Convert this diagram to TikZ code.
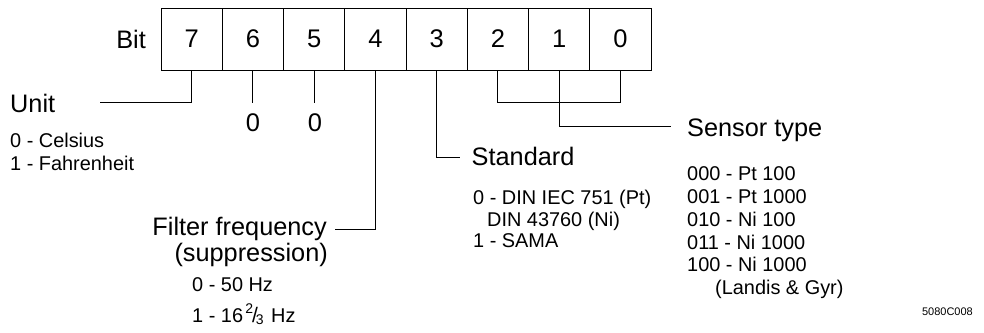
\documentclass[tikz,border=0pt]{standalone}
\usepackage{fontspec}
\setmainfont{Liberation Sans}
\begin{document}
\begin{tikzpicture}[x=1pt,y=-1pt,
  cell/.style={draw, line width=0.9pt, minimum width=61.25pt, minimum height=62pt, inner sep=0pt, font=\fontsize{25.5}{30}\selectfont},
  big/.style={anchor=base west, inner sep=0pt, font=\fontsize{25.3}{29}\selectfont},
  bige/.style={anchor=base east, inner sep=0pt, font=\fontsize{25.3}{29}\selectfont},
  small/.style={anchor=base west, inner sep=0pt, font=\fontsize{19.9}{23}\selectfont},
  conn/.style={line width=0.9pt}]
\useasboundingbox (0,0) rectangle (984,332);
% cells
\foreach \b/\i in {7/0,6/1,5/2,4/3,3/4,2/5,1/6,0/7}{
  \node[cell] (c\b) at ({161+61.25*\i+30.625},39) {\b};
}
\node[bige] (bit) at (146,48) {Bit};
% Unit
\node[big] (unit) at (10,112) {Unit};
\node[small] (u0) at (10,147) {0 - Celsius};
\node[small] (u1) at (10,170.5) {1 - Fahrenheit};
\coordinate (unitend) at (100,102);
\draw[conn] (c7.south) |- (unitend);
% bits 6 and 5
\coordinate (e6) at (c6.south |- 0,103);
\coordinate (e5) at (c5.south |- 0,103);
\draw[conn] (c6.south) -- (e6);
\draw[conn] (c5.south) -- (e5);
\node[anchor=base, inner sep=0pt, font=\fontsize{25.5}{30}\selectfont] (z6) at (253,131.5) {0};
\node[anchor=base, inner sep=0pt, font=\fontsize{25.5}{30}\selectfont] (z5) at (315,131.5) {0};
% Filter
\node[bige] (filt) at (327,235) {Filter frequency};
\node[bige] (supp) at (328,261) {(suppression)};
\node[small] (f0) at (192,291.5) {0 - 50 Hz};
\node[small] (f1) at (192,322.5) {1 - 16\kern0.12em\raisebox{0.45em}{\fontsize{14}{14}\selectfont 2}\kern-0.06em{\fontsize{21}{22}\selectfont /}\kern-0.1em\raisebox{-0.1em}{\fontsize{14}{14}\selectfont 3}\kern0.1em{} Hz};
\coordinate (filtend) at (335,229);
\draw[conn] (c4.south) |- (filtend);
% Standard
\node[big] (std) at (471.5,165) {Standard};
\node[small] (s0) at (473,204) {0 - DIN IEC 751 (Pt)};
\node[small] (s0b) at (487,226) {DIN 43760 (Ni)};
\node[small] (s1) at (473,247.5) {1 - SAMA};
\coordinate (stdend) at (460,157);
\draw[conn] (c3.south) |- (stdend);
% Sensor type
\coordinate (j2) at (c2.south |- 0,102);
\coordinate (j0) at (c0.south |- 0,102);
\draw[conn] (c2.south) -- (j2) -- (j0) -- (c0.south);
\coordinate (sensend) at (671,126);
\draw[conn] (c1.south) |- (sensend);
\node[big] (sens) at (687,136.5) {Sensor type};
\node[small] (t0) at (687,180) {000 - Pt 100};
\node[small] (t1) at (687,203) {001 - Pt 1000};
\node[small] (t2) at (687,226) {010 - Ni 100};
\node[small] (t3) at (687,249) {011 - Ni 1000};
\node[small] (t4) at (687,271.5) {100 - Ni 1000};
\node[small] (t4b) at (715,294) {(Landis \& Gyr)};
% code
\node[anchor=base east, inner sep=0pt, font=\fontsize{11}{13}\selectfont] (code) at (973,315) {5080C008};
\end{tikzpicture}
\end{document}
